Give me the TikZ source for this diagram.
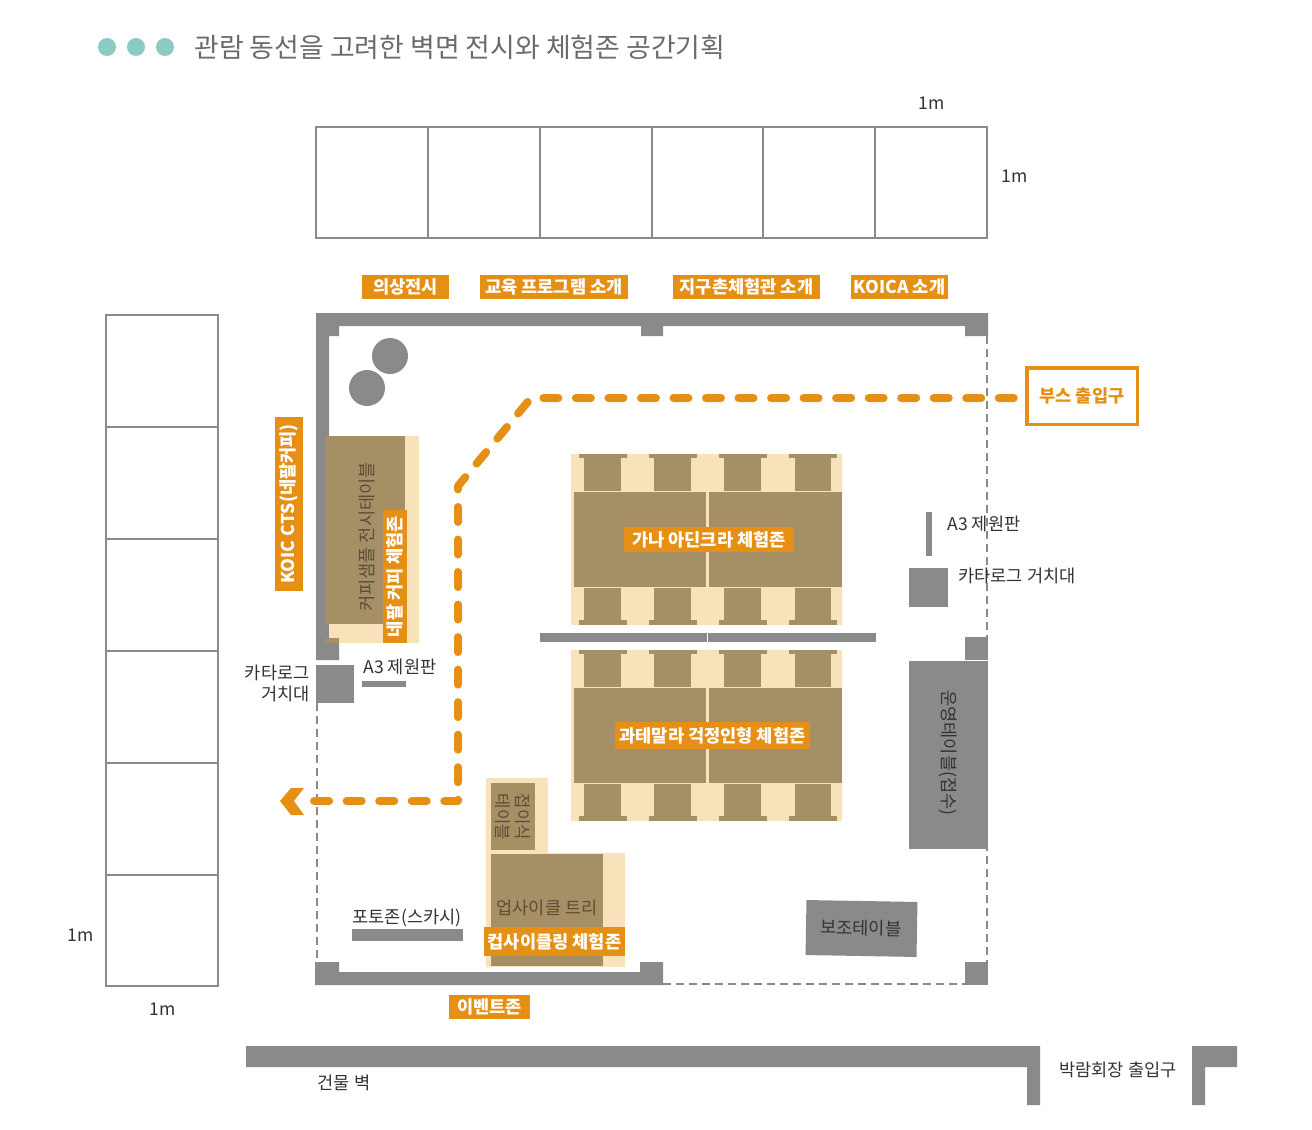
\documentclass[tikz,border=0pt]{standalone}
\usepackage{fontspec}
\setmainfont{Noto Sans CJK KR}
\definecolor{wallgray}{HTML}{8A8A8A}
\definecolor{tabletan}{HTML}{A58F65}
\definecolor{zonecream}{HTML}{F8E2B9}
\definecolor{tagorange}{HTML}{E68F15}
\definecolor{dotteal}{HTML}{8CCAC6}
\definecolor{labelink}{HTML}{333333}
\definecolor{tableink}{HTML}{5A4E34}
\begin{document}
\begin{tikzpicture}[
  x=0.2mm, y=-0.2mm,
  wall/.style={fill=wallgray},
  tabletop/.style={fill=tabletan},
  zone/.style={fill=zonecream},
  cell/.style={draw=wallgray, line width=0.5mm},
  open/.style={draw=wallgray, line width=0.35mm, dash pattern=on 1.5mm off 1.1mm},
  dot/.style={fill=dotteal},
  tag/.style={fill=tagorange, text=white, inner sep=0pt, font=\fontsize{10}{12}\selectfont\bfseries},
  lbl/.style={text=labelink, inner sep=0pt, font=\fontsize{10}{12}\selectfont},
  onwood/.style={text=tableink, inner sep=0pt, font=\fontsize{10}{12}\selectfont},
  route/.style={draw=tagorange, line width=1.6mm, line cap=round, line join=round,
    dash pattern=on 3mm off 3.506mm, dash phase=4.26mm}
]
\useasboundingbox (0,0) rectangle (1312,1130);

% --- heading ---
\fill[dot] (107,47) circle (9);
\fill[dot] (136,47) circle (9);
\fill[dot] (165,47) circle (9);
\node[text=black!58, inner sep=0pt, anchor=west, font=\fontsize{15.3}{18}\selectfont] (heading) at (194,47)
  {관람 동선을 고려한 벽면 전시와 체험존 공간기획};

% --- wall panels, top row ---
\draw[cell] (316,127) rectangle (428,238);
\draw[cell] (428,127) rectangle (540,238);
\draw[cell] (540,127) rectangle (652,238);
\draw[cell] (652,127) rectangle (763,238);
\draw[cell] (763,127) rectangle (875,238);
\draw[cell] (875,127) rectangle (987,238);
\node[lbl] (topw) at (932,103) {1m};
\node[lbl] (toph) at (1015,176) {1m};

% --- wall panels, left column ---
\draw[cell] (106,315) rectangle (218,427);
\draw[cell] (106,427) rectangle (218,539);
\draw[cell] (106,539) rectangle (218,651);
\draw[cell] (106,651) rectangle (218,763);
\draw[cell] (106,763) rectangle (218,875);
\draw[cell] (106,875) rectangle (218,986);
\node[lbl] (lefth) at (81,935) {1m};
\node[lbl] (leftw) at (163,1009) {1m};

% --- open sides of the booth ---
\draw[open] (317,703) -- (317,965);
\draw[open] (987,336) -- (987,985);
\draw[open] (663,984) -- (965,984);

% --- booth walls ---
\fill[wall] (316,313) -- (988,313) -- (988,336) -- (965,336) -- (965,326) -- (663,326)
  -- (663,336) -- (641,336) -- (641,326) -- (339,326) -- (339,336) -- (329,336)
  -- (329,638) -- (339,638) -- (339,660) -- (316,660) -- cycle;
\fill[wall] (315,962) -- (339,962) -- (339,972) -- (640,972) -- (640,962) -- (663,962)
  -- (663,985) -- (315,985) -- cycle;
\fill[wall] (965,637) rectangle (988,660);
\fill[wall] (965,962) rectangle (988,985);

% --- building wall ---
\fill[wall] (246,1046) -- (1040,1046) -- (1040,1105) -- (1027,1105) -- (1027,1067) -- (246,1067) -- cycle;
\fill[wall] (1192,1046) -- (1237,1046) -- (1237,1067) -- (1205,1067) -- (1205,1105) -- (1192,1105) -- cycle;
\node[lbl] (buildwall) at (344,1083) {건물 벽};
\node[lbl] (hallgate) at (1118,1070) {박람회장 출입구};

% --- corner stools ---
\fill[wall] (390,356) circle (18);
\fill[wall] (367,388) circle (18);

% --- coffee table ---
\fill[zone] (329,436) rectangle (419,643);
\fill[tabletop] (325,436) rectangle (405,624);
\fill[tabletop] (325,638) rectangle (339,643);
\node[onwood, rotate=90] (coffeetable) at (367,537) {커피샘플 전시테이블};

% --- catalogue and board, left ---
\fill[wall] (316,665) rectangle (354,703);
\fill[wall] (362,681) rectangle (406,687);
\node[lbl, align=right, anchor=east] (catleft) at (310,683) {카타로그\\거치대};
\node[lbl] (boardleft) at (400,667) {A3 제원판};

% --- Ghana zone ---
\fill[zone] (571,454) rectangle (842,625);
\fill[tabletop] (574,492) rectangle (706,587);
\fill[tabletop] (709,492) rectangle (842,587);
\fill[tabletop] (579,454) rectangle (627,458);
\fill[tabletop] (584,458) rectangle (621,491);
\fill[tabletop] (649,454) rectangle (697,458);
\fill[tabletop] (654,458) rectangle (691,491);
\fill[tabletop] (719,454) rectangle (767,458);
\fill[tabletop] (724,458) rectangle (761,491);
\fill[tabletop] (789,454) rectangle (837,458);
\fill[tabletop] (795,458) rectangle (831,491);
\fill[tabletop] (584,588) rectangle (621,620);
\fill[tabletop] (579,620) rectangle (627,625);
\fill[tabletop] (654,588) rectangle (691,620);
\fill[tabletop] (649,620) rectangle (697,625);
\fill[tabletop] (724,588) rectangle (761,620);
\fill[tabletop] (719,620) rectangle (767,625);
\fill[tabletop] (795,588) rectangle (831,620);
\fill[tabletop] (789,620) rectangle (837,625);

% --- divider ---
\fill[wall] (540,633) rectangle (707,642);
\fill[wall] (708,633) rectangle (876,642);

% --- Guatemala zone ---
\fill[zone] (571,650) rectangle (842,821);
\fill[tabletop] (574,688) rectangle (706,783);
\fill[tabletop] (709,688) rectangle (842,783);
\fill[tabletop] (579,650) rectangle (627,654);
\fill[tabletop] (584,654) rectangle (621,687);
\fill[tabletop] (649,650) rectangle (697,654);
\fill[tabletop] (654,654) rectangle (691,687);
\fill[tabletop] (719,650) rectangle (767,654);
\fill[tabletop] (724,654) rectangle (761,687);
\fill[tabletop] (789,650) rectangle (837,654);
\fill[tabletop] (795,654) rectangle (831,687);
\fill[tabletop] (584,784) rectangle (621,816);
\fill[tabletop] (579,816) rectangle (627,821);
\fill[tabletop] (654,784) rectangle (691,816);
\fill[tabletop] (649,816) rectangle (697,821);
\fill[tabletop] (724,784) rectangle (761,816);
\fill[tabletop] (719,816) rectangle (767,821);
\fill[tabletop] (795,784) rectangle (831,816);
\fill[tabletop] (789,816) rectangle (837,821);

% --- upcycling corner ---
\fill[zone] (486,778) rectangle (548,853);
\fill[zone] (486,853) rectangle (625,967);
\fill[tabletop] (491,783) rectangle (535,850);
\fill[tabletop] (491,854) rectangle (603,966);
\node[onwood, rotate=-90, align=center, font=\fontsize{9.5}{11.5}\selectfont] (foldtable) at (513,817) {접이식\\테이블};
\node[onwood] (upcycletree) at (547,908) {업사이클 트리};

% --- photo zone ---
\fill[wall] (352,929) rectangle (463,941);
\node[lbl] (photozone) at (407,918) {포토존(스카시)};

% --- right side furniture ---
\fill[wall] (926,512) rectangle (932,556);
\fill[wall] (909,568) rectangle (948,607);
\fill[wall] (909,661) rectangle (988,849);
\fill[wall, rotate around={-1:(861.5,928.5)}] (806,901) rectangle (917,956);
\node[lbl] (boardright) at (984,524) {A3 제원판};
\node[lbl] (catright) at (1017,576) {카타로그 거치대};
\node[lbl, rotate=-90] (desk) at (948,753) {운영테이블(접수)};
\node[lbl, rotate=-1] (sidetable) at (861,928) {보조테이블};

% --- orange tags ---
\node[tag, minimum width=17.4mm, minimum height=4.8mm] (tagdress) at (405.5,287) {의상전시};
\node[tag, minimum width=29.6mm, minimum height=4.8mm] (tagedu) at (554,287) {교육 프로그램 소개};
\node[tag, minimum width=29.4mm, minimum height=4.8mm] (tagglobal) at (746.5,287) {지구촌체험관 소개};
\node[tag, minimum width=19.4mm, minimum height=4.8mm] (tagkoica) at (899.5,287) {KOICA 소개};
\node[tag, rotate=90, minimum width=34.8mm, minimum height=5.6mm] (tagcts) at (289,504) {KOIC CTS(네팔커피)};
\node[tag, rotate=90, minimum width=26.6mm, minimum height=4.8mm] (tagnepal) at (395,576.5) {네팔 커피 체험존};
\node[tag, minimum width=34mm, minimum height=5mm] (tagghana) at (709,539.5) {가나 아딘크라 체험존};
\node[tag, minimum width=39mm, minimum height=5.4mm] (tagguate) at (712.5,735.5) {과테말라 걱정인형 체험존};
\node[tag, minimum width=28.2mm, minimum height=5.8mm] (tagcup) at (554.5,941.5) {컵사이클링 체험존};
\node[tag, minimum width=16.2mm, minimum height=4.8mm] (tagevent) at (489.5,1007) {이벤트존};

% --- visitor route ---
\node[draw=tagorange, line width=0.7mm, text=tagorange, inner sep=0pt, minimum width=22.1mm, minimum height=11.3mm,
  font=\fontsize{10}{12}\selectfont\bfseries] (entry) at (1082,396) {부스 출입구};
\coordinate (bendtop) at (531,398);
\coordinate (bendside) at (458,486);
\coordinate (bendlow) at (458,801);
\coordinate (exit) at (314,801);
\draw[route] (entry.west |- bendtop) -- (bendtop) -- (bendside) -- (bendlow) -- (exit);
\fill[tagorange] (280,801) -- (291,788) -- (304,788) -- (294,801) -- (304,815) -- (291,815) -- cycle;

\end{tikzpicture}
\end{document}
